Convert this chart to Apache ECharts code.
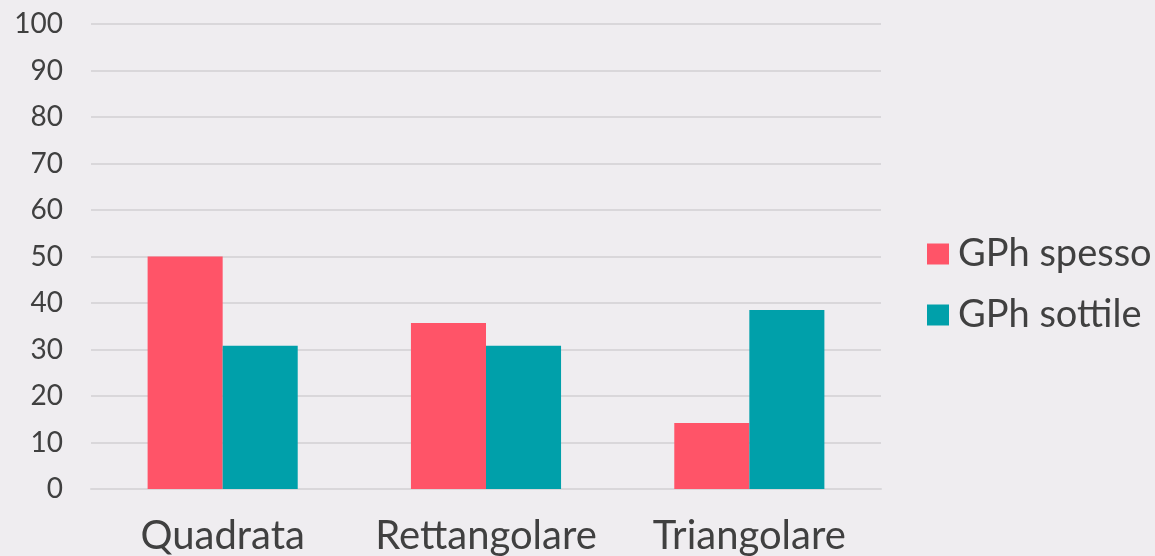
<!DOCTYPE html>
<html>
<head>
<meta charset="utf-8">
<script src="https://cdn.jsdelivr.net/npm/echarts@6/dist/echarts.min.js"></script>
<style>
  html, body { margin: 0; padding: 0; background: #efedf0; }
  #chart { width: 1155px; height: 556px; }
</style>
</head>
<body>
<div id="chart"></div>
<script>
// categorie e valori
const categorie = ['Quadrata', 'Rettangolare', 'Triangolare']
const gphSpesso = [50, 35.7, 14.2]
const gphSottile = [30.8, 30.8, 38.5]
const tickY = [0, 10, 20, 30, 40, 50, 60, 70, 80, 90, 100]

const fontBase = 'Lato'
const coloreTesto = '#404040'
const fontLegenda = 38

var chartDom = document.getElementById('chart');
var myChart = echarts.init(chartDom);

var option = {
  backgroundColor: '#efedf0',
  animation: false,
  textStyle: { fontFamily: fontBase },
  grid: {
    left: 91,
    right: 274,
    top: 24,
    bottom: 67,
    containLabel: false,
    outerBoundsMode: 'none'
  },
  legend: {
    orient: 'vertical',
    left: 927,
    top: 235,
    padding: 0,
    itemWidth: 22,
    itemHeight: 21,
    itemGap: 61 - fontLegenda,
    icon: 'rect',
    textStyle: {
      fontSize: fontLegenda,
      color: coloreTesto,
      fontFamily: fontBase,
      padding: [4, 0, 0, 4]
    },
    data: ['GPh spesso', 'GPh sottile']
  },
  xAxis: {
    type: 'category',
    data: categorie,
    axisLine: { show: true, lineStyle: { color: '#d9d7da', width: 2 } },
    axisTick: { show: false },
    axisLabel: {
      interval: 0,
      fontSize: 40,
      color: coloreTesto,
      margin: 27,
      fontFamily: fontBase
    }
  },
  yAxis: {
    type: 'value',
    min: tickY[0],
    max: tickY[tickY.length - 1],
    interval: 10,
    axisLine: { show: false },
    axisTick: { show: false },
    splitLine: { lineStyle: { color: '#d9d7da', width: 2 } },
    axisLabel: {
      fontSize: 28,
      color: coloreTesto,
      margin: 28,
      fontFamily: fontBase
    }
  },
  series: [
    {
      name: 'GPh spesso',
      type: 'bar',
      data: gphSpesso,
      barGap: '0%',
      barCategoryGap: '43%',
      itemStyle: { color: '#ff5468' }
    },
    {
      name: 'GPh sottile',
      type: 'bar',
      data: gphSottile,
      itemStyle: { color: '#00a0aa' }
    }
  ]
};

option && myChart.setOption(option);
</script>
</body>
</html>
